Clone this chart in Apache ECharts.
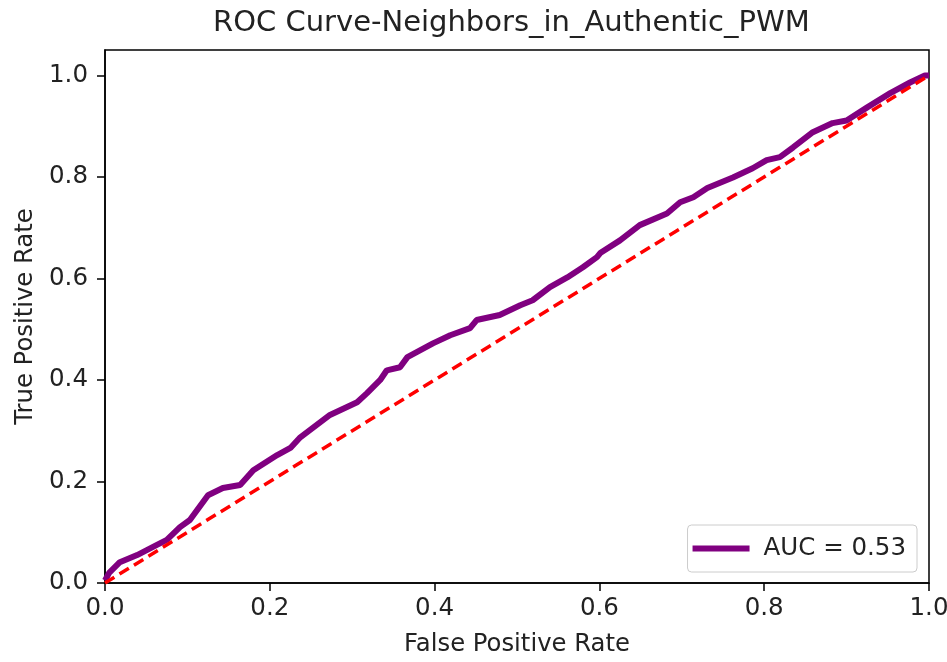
<!DOCTYPE html>
<html><head><meta charset="utf-8">
<script src="https://cdn.jsdelivr.net/npm/echarts@6/dist/echarts.min.js"></script>
<style>html,body{margin:0;padding:0;background:#fff}#c{width:947px;height:662px}</style>
</head><body><div id="c"></div>
<script>
const titleText = 'ROC Curve-Neighbors_in_Authentic_PWM';
const legendLabel = 'AUC = 0.53';
const fpr = [0, 0.005, 0.018, 0.039, 0.063, 0.075, 0.091, 0.103, 0.125, 0.143, 0.164, 0.180, 0.209, 0.225, 0.237, 0.273, 0.306, 0.318, 0.334, 0.342, 0.358, 0.367, 0.398, 0.419, 0.443, 0.451, 0.479, 0.504, 0.519, 0.540, 0.561, 0.580, 0.597, 0.601, 0.625, 0.649, 0.682, 0.698, 0.714, 0.731, 0.762, 0.786, 0.803, 0.819, 0.835, 0.859, 0.883, 0.900, 0.925, 0.953, 0.977, 0.995, 1.0];
const tpr = [0.005, 0.020, 0.041, 0.055, 0.075, 0.085, 0.110, 0.124, 0.173, 0.187, 0.193, 0.222, 0.252, 0.266, 0.287, 0.331, 0.356, 0.374, 0.400, 0.419, 0.425, 0.445, 0.472, 0.488, 0.502, 0.518, 0.528, 0.547, 0.557, 0.583, 0.602, 0.622, 0.642, 0.650, 0.675, 0.705, 0.728, 0.750, 0.760, 0.778, 0.799, 0.817, 0.833, 0.839, 0.858, 0.888, 0.906, 0.911, 0.937, 0.965, 0.986, 1.0, 1.0];
const diagX = [0, 1];
const diagY = [0, 1];
const xTicks = [0, 0.2, 0.4, 0.6, 0.8, 1.0];
const yTicks = [0, 0.2, 0.4, 0.6, 0.8, 1.0];

const chart = echarts.init(document.getElementById('c'));
const font = 'DejaVu Sans';
const txt = '#222';
chart.setOption({
  animation: false,
  backgroundColor: '#fff',
  title: {text: titleText, left: 213, top: 9, padding: 0,
    textStyle: {fontFamily: font, fontSize: 29, fontWeight: 'normal', color: txt}},
  grid: {left: 105, right: 18, top: 50, bottom: 79, show: true, borderColor: '#000', borderWidth: 1.5,
    containLabel: false, outerBoundsMode: 'none'},
  legend: {
    right: 30, bottom: 90, orient: 'horizontal',
    data: [{name: legendLabel, icon: 'rect'}],
    itemWidth: 57, itemHeight: 6, itemGap: 10,
    borderColor: '#cccccc', borderWidth: 1, borderRadius: 4, padding: [11, 11, 11, 5],
    textStyle: {fontFamily: font, fontSize: 24.5, color: txt, padding: [0, 0, 0, 9]}
  },
  xAxis: {
    type: 'value', min: 0, max: 1, interval: 0.2,
    name: 'False Positive Rate', nameLocation: 'middle', nameGap: 50,
    nameTextStyle: {fontFamily: font, fontSize: 24.3, color: txt},
    axisLine: {show: true, lineStyle: {color: '#000', width: 1.5}},
    axisTick: {show: true, length: 8, lineStyle: {color: '#000', width: 1.5}, customValues: xTicks},
    axisLabel: {fontFamily: font, fontSize: 24.5, color: txt, margin: 13, customValues: xTicks,
      formatter: v => v.toFixed(1)},
    splitLine: {show: false}
  },
  yAxis: {
    type: 'value', min: 0, max: 1.05,
    name: 'True Positive Rate', nameLocation: 'middle', nameGap: 67,
    nameTextStyle: {fontFamily: font, fontSize: 24.3, color: txt},
    axisLine: {show: true, lineStyle: {color: '#000', width: 1.5}},
    axisTick: {show: true, length: 8, lineStyle: {color: '#000', width: 1.5}, customValues: yTicks},
    axisLabel: {fontFamily: font, fontSize: 24.5, color: txt, margin: 17, customValues: yTicks,
      formatter: v => v.toFixed(1)},
    splitLine: {show: false}
  },
  series: [
    {name: legendLabel, type: 'line', data: fpr.map((x, i) => [x, tpr[i]]), showSymbol: false,
     lineStyle: {color: '#800080', width: 6}, itemStyle: {color: '#800080'}, z: 2},
    {name: 'diag', type: 'line', data: diagX.map((x, i) => [x, diagY[i]]), showSymbol: false,
     lineStyle: {color: '#ff0000', width: 3.5, type: [11, 6]}, itemStyle: {color: '#ff0000'}, z: 3}
  ]
});
</script></body></html>
